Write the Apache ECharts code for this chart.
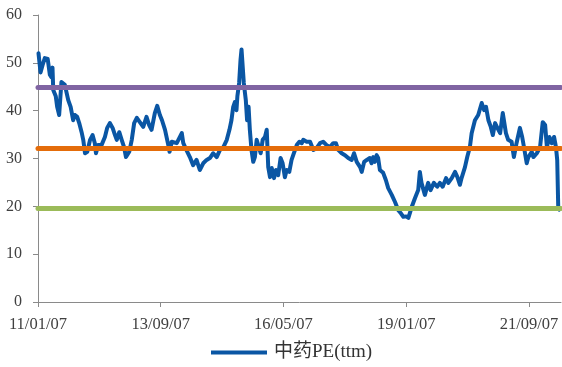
<!DOCTYPE html>
<html>
<head>
<meta charset="utf-8">
<script src="https://cdn.jsdelivr.net/npm/echarts@6/dist/echarts.min.js"></script>
<style>
  html, body { margin: 0; padding: 0; background: #ffffff; }
  #chart { width: 562px; height: 367px; }
</style>
</head>
<body>
<div id="chart"></div>
<script>
// Traditional Chinese medicine sector PE (ttm), sampled trading dates
const dates = [
  '2011-01-11','2011-01-27','2011-02-12','2011-03-02','2011-03-25','2011-04-11','2011-04-23','2011-05-02',
  '2011-05-08','2011-05-28','2011-06-08','2011-06-24','2011-07-12','2011-07-23','2011-08-08','2011-09-04',
  '2011-09-23','2011-10-13','2011-10-27','2011-11-14','2011-11-30','2011-12-19','2012-01-01','2012-01-15',
  '2012-02-02','2012-02-24','2012-03-15','2012-04-02','2012-04-11','2012-04-29','2012-05-25','2012-06-21',
  '2012-07-09','2012-07-30','2012-08-21','2012-09-09','2012-09-23','2012-10-13','2012-11-01','2012-11-20',
  '2012-12-05','2012-12-17','2012-12-31','2013-01-20','2013-02-08','2013-03-01','2013-03-25','2013-04-21',
  '2013-05-17','2013-06-07','2013-06-26','2013-07-22','2013-08-10','2013-08-31','2013-09-17','2013-10-11',
  '2013-11-06','2013-11-16','2013-12-03','2014-01-12','2014-02-21','2014-03-05','2014-03-29','2014-04-26',
  '2014-05-22','2014-06-18','2014-07-14','2014-08-10','2014-09-06','2014-10-02','2014-10-28','2014-11-25',
  '2014-12-21','2015-01-17','2015-02-13','2015-03-06','2015-03-22','2015-04-05','2015-04-18','2015-05-01',
  '2015-05-08','2015-05-22','2015-06-02','2015-06-10','2015-06-21','2015-06-28','2015-07-14','2015-07-24',
  '2015-08-05','2015-08-15','2015-08-28','2015-09-11','2015-09-24','2015-10-08','2015-10-20','2015-11-09',
  '2015-11-25','2015-12-13','2015-12-27','2016-01-08','2016-01-22','2016-02-05','2016-02-23','2016-03-09',
  '2016-03-27','2016-04-15','2016-05-01','2016-05-19','2016-06-02','2016-06-23','2016-07-11','2016-07-24',
  '2016-08-07','2016-08-21','2016-09-11','2016-09-30','2016-10-12','2016-11-08','2016-12-05','2016-12-31',
  '2017-01-27','2017-02-22','2017-03-19','2017-04-15','2017-05-11','2017-06-07','2017-06-28','2017-07-16',
  '2017-08-13','2017-09-08','2017-10-04','2017-10-31','2017-11-19','2017-12-10','2018-01-06','2018-01-19',
  '2018-02-07','2018-02-28','2018-03-24','2018-04-07','2018-04-20','2018-05-03','2018-05-17','2018-05-29',
  '2018-06-12','2018-07-08','2018-07-29','2018-08-17','2018-09-14','2018-10-10','2018-11-05','2018-11-27',
  '2018-12-15','2019-01-06','2019-01-24','2019-02-20','2019-03-17','2019-04-12','2019-04-25','2019-05-08',
  '2019-06-04','2019-06-30','2019-07-19','2019-08-14','2019-09-10','2019-10-01','2019-10-23','2019-11-19',
  '2019-12-07','2020-01-03','2020-01-29','2020-02-17','2020-03-08','2020-03-21','2020-04-17','2020-05-05',
  '2020-05-26','2020-06-09','2020-07-05','2020-07-31','2020-08-14','2020-08-28','2020-09-16','2020-10-01',
  '2020-10-20','2020-11-08','2020-11-24','2020-12-12','2020-12-30','2021-01-21','2021-02-11','2021-02-22',
  '2021-03-08','2021-03-26','2021-04-22','2021-05-10','2021-05-31','2021-06-27','2021-07-15','2021-07-29',
  '2021-08-20','2021-09-02','2021-09-29','2021-10-12','2021-11-08','2021-12-04','2021-12-25','2022-01-13',
  '2022-01-27','2022-02-16','2022-03-07','2022-03-25','2022-04-09','2022-04-19','2022-04-27','2022-05-05'
];

const peValues = [
  52.0, 48.0, 49.5, 51.0, 50.8, 47.5, 47.0, 49.0,
  44.3, 43.0, 40.8, 39.1, 46.0, 45.8, 45.4, 42.2,
  40.8, 38.0, 39.1, 38.7, 37.4, 35.5, 33.9, 31.1,
  31.4, 33.9, 34.9, 33.2, 31.1, 32.8, 32.8, 34.5,
  36.4, 37.4, 36.4, 34.9, 33.9, 35.5, 33.9, 32.4,
  30.3, 30.1, 31.4, 33.9, 37.4, 38.5, 37.6, 36.6,
  38.7, 37.0, 36.0, 39.5, 41.0, 39.1, 38.0, 36.0,
  32.8, 31.4, 33.5, 33.2, 35.3, 33.2, 31.8, 30.3,
  28.6, 29.7, 27.6, 29.0, 29.7, 30.1, 31.1, 30.3,
  31.8, 32.4, 33.9, 36.0, 38.0, 40.8, 41.8, 40.1,
  43.0, 45.8, 50.6, 52.8, 52.5, 45.8, 42.2, 38.0,
  40.8, 36.0, 31.8, 29.3, 30.3, 33.9, 33.9, 31.1,
  33.9, 34.5, 36.0, 28.2, 26.1, 28.0, 25.9, 27.6,
  26.5, 30.1, 29.0, 26.1, 27.6, 27.2, 29.7, 30.7,
  31.1, 32.8, 33.5, 33.2, 33.9, 33.5, 33.5, 31.8,
  32.2, 33.2, 33.5, 32.8, 32.4, 33.2, 33.2, 31.8,
  31.1, 30.7, 30.1, 29.7, 31.1, 29.3, 28.2, 27.2,
  29.3, 29.7, 30.1, 29.0, 30.3, 29.3, 30.7, 30.1,
  27.6, 27.0, 25.5, 23.8, 22.4, 20.9, 19.2, 18.5,
  17.8, 17.9, 17.6, 19.9, 21.7, 23.4, 27.2, 24.9,
  22.4, 24.9, 23.4, 24.9, 24.1, 24.9, 24.1, 25.9,
  24.9, 25.9, 27.2, 26.1, 24.5, 25.9, 28.2, 30.3,
  32.4, 35.3, 38.0, 39.1, 38.7, 41.6, 40.1, 40.8,
  38.0, 36.6, 34.9, 37.4, 36.4, 35.3, 39.5, 39.1,
  35.3, 33.9, 33.5, 30.3, 33.2, 36.4, 34.5, 32.4,
  29.0, 30.3, 31.4, 30.3, 31.1, 32.4, 37.6, 37.0,
  32.4, 34.5, 33.2, 34.5, 32.4, 29.7, 19.9, 19.3
];

// Reference levels: upper band, average, lower band
const levelValues = [44.9, 32.2, 19.6];
const levelColors = ['#8064A2', '#E46C0A', '#9BBB59'];

const tickDates = ['2011-01-07', '2013-09-07', '2016-05-07', '2019-01-07', '2021-09-07'];
const axisStart = '2011-01-07';
const axisEnd = '2022-05-19';
const seriesName = '中药PE(ttm)';

function toTime(s) {
  const p = s.split('-').map(Number);
  return Date.UTC(p[0], p[1] - 1, p[2]);
}
function pad(n) { return (n < 10 ? '0' : '') + n; }
function fmtDate(t) {
  const d = new Date(t);
  return pad(d.getUTCFullYear() % 100) + '/' + pad(d.getUTCMonth() + 1) + '/' + pad(d.getUTCDate());
}

const lineData = dates.map((d, i) => [toTime(d), peValues[i]]);
const tickTimes = tickDates.map(toTime);

const serif = '"Liberation Serif", "Times New Roman", "Noto Sans CJK SC", serif';
const axisGrey = '#8a8a8a';

const chart = echarts.init(document.getElementById('chart'), null, { renderer: 'canvas' });
chart.setOption({
  animation: false,
  backgroundColor: '#ffffff',
  grid: { left: 38, right: 1, top: 15, bottom: 65, containLabel: false },
  legend: {
    data: [seriesName],
    left: 211,
    top: 343,
    padding: 0,
    icon: 'rect',
    itemWidth: 56,
    itemHeight: 4,
    itemGap: 8,
    textStyle: { fontFamily: serif, fontSize: 19, color: '#333333', padding: [0, 0, 0, 2] }
  },
  xAxis: {
    type: 'value',
    min: toTime(axisStart),
    max: toTime(axisEnd),
    axisLine: { show: true, lineStyle: { color: axisGrey, width: 1 } },
    axisTick: { show: true, length: 5, customValues: tickTimes, lineStyle: { color: axisGrey } },
    axisLabel: {
      customValues: tickTimes,
      formatter: v => fmtDate(v),
      fontFamily: serif,
      fontSize: 16.5,
      color: '#404040',
      margin: 14,
      hideOverlap: false
    },
    splitLine: { show: false }
  },
  yAxis: {
    type: 'value',
    min: 0,
    max: 60,
    interval: 10,
    axisLine: { show: true, lineStyle: { color: axisGrey, width: 1 } },
    axisTick: { show: true, length: 5, lineStyle: { color: axisGrey } },
    axisLabel: { fontFamily: serif, fontSize: 16, color: '#404040', margin: 16 },
    splitLine: { show: false }
  },
  series: [
    {
      name: seriesName,
      type: 'line',
      data: lineData,
      showSymbol: false,
      symbol: 'none',
      color: '#0A56A4',
      lineStyle: { color: '#0A56A4', width: 4, join: 'round', cap: 'round' },
      z: 2,
      markLine: {
        silent: true,
        symbol: 'none',
        label: { show: false },
        z: 3,
        data: levelValues.map((v, i) => ({
          yAxis: v,
          lineStyle: { color: levelColors[i], width: 5, type: 'solid', cap: 'round' }
        }))
      }
    }
  ]
});
</script>
</body>
</html>
